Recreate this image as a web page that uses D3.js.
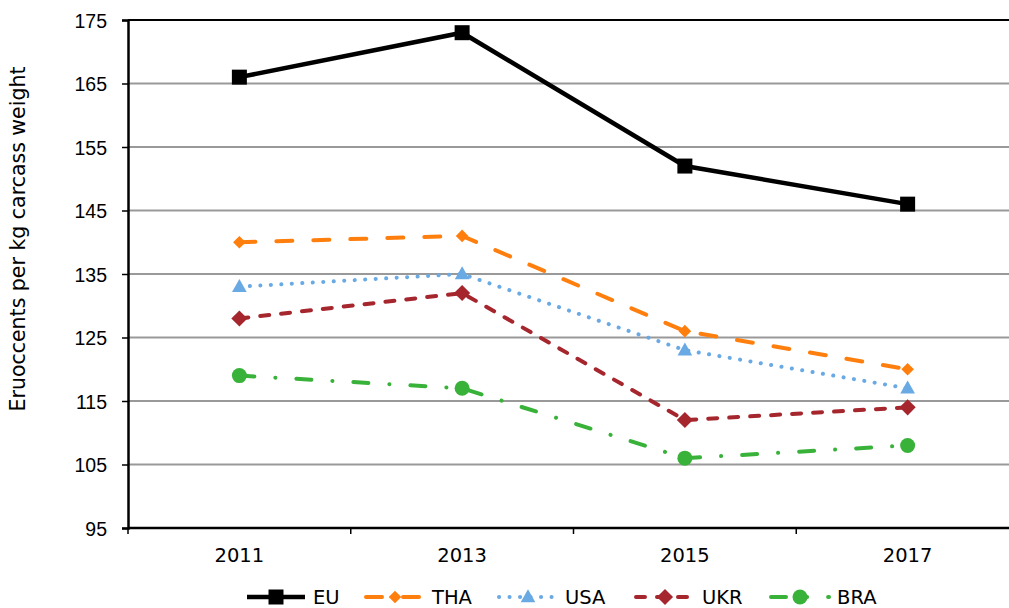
<!DOCTYPE html>
<html>
<head>
<meta charset="utf-8">
<script src="https://cdn.jsdelivr.net/npm/d3@7"></script>
<style>
  body { margin: 0; background: #fff; }
  svg { display: block; font-family: "DejaVu Sans", Verdana, sans-serif; }
</style>
</head>
<body>
<div id="chart"></div>
<script>
// data
const years = ["2011", "2013", "2015", "2017"];
const seriesNames = ["EU", "THA", "USA", "UKR", "BRA"];
const euValues = [166, 173, 152, 146];
const thaValues = [140, 141, 126, 120];
const usaValues = [133, 135, 123, 117];
const ukrValues = [128, 132, 112, 114];
const braValues = [119, 117, 106, 108];
const yTicks = [95, 105, 115, 125, 135, 145, 155, 165, 175];

const W = 1009, H = 608;
const margin = {top: 20, left: 128, bottom: 80};
const plotW = 891; // plot runs past the right edge of the picture
const fs = "19.5px";

const svg = d3.select("#chart").append("svg")
    .attr("width", W)
    .attr("height", H);

const x = d3.scaleBand().domain(years).range([margin.left, margin.left + plotW]);
const y = d3.scaleLinear().domain([95, 175]).range([H - margin.bottom, margin.top]);

// gridlines
svg.append("g")
    .selectAll("line")
    .data(yTicks.slice(1))
    .join("line")
    .attr("x1", margin.left)
    .attr("x2", margin.left + plotW)
    .attr("y1", d => y(d))
    .attr("y2", d => y(d))
    .attr("stroke", d => d === 175 ? "#000" : "#999")
    .attr("stroke-width", 2);

// y axis
const yAxis = svg.append("g")
    .attr("transform", `translate(${margin.left},0)`)
    .call(d3.axisLeft(y).tickValues(yTicks).tickSize(6).tickPadding(15));
yAxis.select(".domain").attr("stroke-width", 2.5);
yAxis.selectAll(".tick line").attr("stroke-width", 1.5);
yAxis.selectAll("text").style("font-size", fs).attr("fill", "#000").attr("dy", "0.36em");

// x axis: ticks between categories
const xAxis = svg.append("g")
    .attr("transform", `translate(0,${y(95)})`);
xAxis.append("line")
    .attr("x1", margin.left).attr("x2", margin.left + plotW)
    .attr("stroke", "#000").attr("stroke-width", 2.5);
xAxis.selectAll(".sep")
    .data(years)
    .join("line")
    .attr("class", "sep")
    .attr("x1", d => x(d)).attr("x2", d => x(d))
    .attr("y1", 0).attr("y2", 6)
    .attr("stroke", "#000").attr("stroke-width", 1.5);
xAxis.selectAll("text")
    .data(years)
    .join("text")
    .attr("x", d => x(d) + x.bandwidth() / 2)
    .attr("y", 34)
    .attr("text-anchor", "middle")
    .style("font-size", fs)
    .text(d => d);

// y label
svg.append("text")
    .attr("transform", `translate(25,239) rotate(-90)`)
    .attr("text-anchor", "middle")
    .style("font-size", "20.5px")
    .text("Eruoccents per kg carcass weight");

const series = [
  {name: "EU", values: euValues, color: "#000000", dash: null, marker: "square", size: 15},
  {name: "THA", values: thaValues, color: "#ff7f0e", dash: "16,21", marker: "diamond", size: 11},
  {name: "USA", values: usaValues, color: "#6aaae4", dash: "0.1,10.4", marker: "triangle", size: 14},
  {name: "UKR", values: ukrValues, color: "#a6262e", dash: "9,12", marker: "diamond", size: 14},
  {name: "BRA", values: braValues, color: "#39b239", dash: "15,21,0.1,21", marker: "circle", size: 15}
];

function markerPath(type, s) {
  const h = s / 2;
  if (type === "square") return `M${-h},${-h}H${h}V${h}H${-h}Z`;
  if (type === "diamond") return `M0,${-h * 1.15}L${h * 1.15},0L0,${h * 1.15}L${-h * 1.15},0Z`;
  if (type === "triangle") return `M0,${-h * 1.1}L${h * 1.05},${h * 0.75}L${-h * 1.05},${h * 0.75}Z`;
  return d3.symbol(d3.symbolCircle, Math.PI * h * h)();
}

const line = d3.line()
    .x((d, i) => x(years[i]) + x.bandwidth() / 2)
    .y(d => y(d));

series.forEach(s => {
  svg.append("path")
      .datum(s.values)
      .attr("fill", "none")
      .attr("stroke", s.color)
      .attr("stroke-width", s.name === "EU" ? 4.5 : 4)
      .attr("stroke-linecap", s.name === "EU" ? "butt" : "round")
      .attr("stroke-dasharray", s.dash)
      .attr("d", line);
  svg.append("g")
      .selectAll("path")
      .data(s.values)
      .join("path")
      .attr("transform", (d, i) => `translate(${x(years[i]) + x.bandwidth() / 2},${y(d)})`)
      .attr("d", markerPath(s.marker, s.size))
      .attr("fill", s.color);
});

// legend
const legendX = [247, 366, 499, 636, 771];
const legend = svg.append("g").attr("transform", `translate(0,597)`);
series.forEach((s, i) => {
  const g = legend.append("g").attr("transform", `translate(${legendX[i]},0)`);
  g.append("line")
      .attr("x1", 0).attr("x2", 58)
      .attr("stroke", s.color)
      .attr("stroke-width", s.name === "EU" ? 4.5 : 4)
      .attr("stroke-linecap", s.name === "EU" ? "butt" : "round")
      .attr("stroke-dasharray", s.dash);
  g.append("path")
      .attr("transform", "translate(29,0)")
      .attr("d", markerPath(s.marker, s.size))
      .attr("fill", s.color);
  g.append("text")
      .attr("x", 66)
      .attr("dy", "0.36em")
      .style("font-size", fs)
      .text(seriesNames[i]);
});
</script>
</body>
</html>
